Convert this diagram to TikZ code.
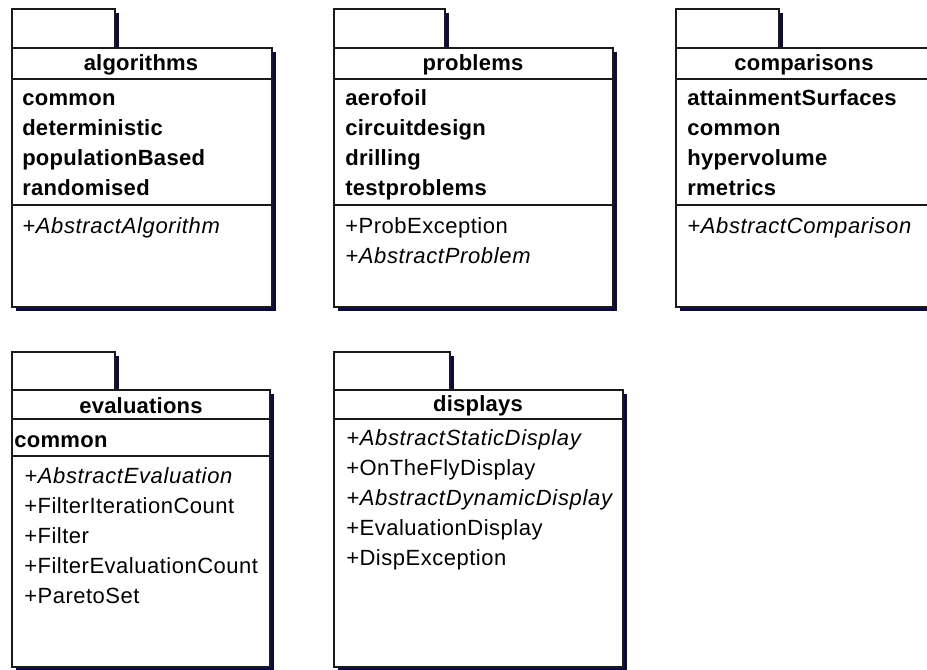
\documentclass[tikz,border=0pt]{standalone}
\usepackage{fontspec}
\setmainfont{Liberation Sans}
\definecolor{shad}{HTML}{0B0B40}
\definecolor{edge}{HTML}{1A1A1A}
\tikzset{
  x=0.75pt, y=-0.75pt,
  box/.style={draw=edge, line width=1.1pt, fill=white},
  sline/.style={draw=edge, line width=1.1pt},
  shadowfill/.style={fill=shad},
  ttl/.style={anchor=base, inner sep=0pt, font=\fontsize{16.5}{20}\selectfont\bfseries\addfontfeatures{LetterSpace=1.0}},
  sub/.style={anchor=base west, inner sep=0pt, font=\fontsize{16.5}{20}\selectfont\bfseries\addfontfeatures{LetterSpace=1.4}},
  op/.style={anchor=base west, inner sep=0pt, font=\fontsize{16.5}{20}\selectfont\addfontfeatures{LetterSpace=2.3}},
  opi/.style={anchor=base west, inner sep=0pt, font=\fontsize{16.5}{20}\selectfont\itshape\addfontfeatures{LetterSpace=3.0}},
}
% #1 left, #2 right, #3 tab right, #4 tab top, #5 main top, #6 bottom
\newcommand{\pkgbox}[6]{%
  \fill[shadowfill] (#1+4,#4+4) rectangle (#3+4,#5+4);
  \fill[shadowfill] (#1+4,#5+4) rectangle (#2+4,#6+4);
  \draw[box] (#1,#4) rectangle (#3,#5);
  \draw[box] (#1,#5) rectangle (#2,#6);
}
\begin{document}
\begin{tikzpicture}
\useasboundingbox (0,0) rectangle (927,669);
\clip (0,0) rectangle (927,669);
\fill[white] (0,0) rectangle (927,669);

% ---- algorithms
\pkgbox{12}{272}{115}{9}{48}{307}
\draw[sline] (12,79) -- (272,79);
\draw[sline] (12,205) -- (272,205);
\node[ttl] (algT) at (141,70) {algorithms};
\node[sub] (alg1) at (22,105) {common};
\node[sub] (alg2) at (22,135) {deterministic};
\node[sub] (alg3) at (22,165) {populationBased};
\node[sub] (alg4) at (22,195) {randomised};
\node[opi] (alg5) at (22,233) {+AbstractAlgorithm};

% ---- problems
\pkgbox{334}{613}{445}{9}{48}{307}
\draw[sline] (334,79) -- (613,79);
\draw[sline] (334,205) -- (613,205);
\node[ttl] (proT) at (473,70) {problems};
\node[sub] (pro1) at (345,105) {aerofoil};
\node[sub] (pro2) at (345,135) {circuitdesign};
\node[sub] (pro3) at (345,165) {drilling};
\node[sub] (pro4) at (345,195) {testproblems};
\node[op] (pro5) at (345,233) {+ProbException};
\node[opi] (pro6) at (345,263) {+AbstractProblem};

% ---- comparisons
\pkgbox{676}{932}{779}{9}{48}{307}
\draw[sline] (676,79) -- (932,79);
\draw[sline] (676,205) -- (932,205);
\node[ttl] (comT) at (804,70) {comparisons};
\node[sub] (com1) at (687,105) {attainmentSurfaces};
\node[sub] (com2) at (687,135) {common};
\node[sub] (com3) at (687,165) {hypervolume};
\node[sub] (com4) at (687,195) {rmetrics};
\node[opi] (com5) at (687,233) {+AbstractComparison};

% ---- evaluations
\pkgbox{12}{270}{115}{352}{390}{667}
\draw[sline] (12,419) -- (270,419);
\draw[sline] (12,456) -- (270,456);
\node[ttl] (evaT) at (141,413) {evaluations};
\node[sub] (eva1) at (14,447) {common};
\node[opi] (eva2) at (24,483) {+AbstractEvaluation};
\node[op] (eva3) at (24,513) {+FilterIterationCount};
\node[op] (eva4) at (24,543) {+Filter};
\node[op] (eva5) at (24,573) {+FilterEvaluationCount};
\node[op] (eva6) at (24,603) {+ParetoSet};

% ---- displays
\pkgbox{334}{623}{450}{352}{390}{667}
\draw[sline] (334,419) -- (623,419);
\node[ttl] (disT) at (478,411) {displays};
\node[opi] (dis1) at (346,445) {+AbstractStaticDisplay};
\node[op] (dis2) at (346,475) {+OnTheFlyDisplay};
\node[opi] (dis3) at (346,505) {+AbstractDynamicDisplay};
\node[op] (dis4) at (346,535) {+EvaluationDisplay};
\node[op] (dis5) at (346,565) {+DispException};
\end{tikzpicture}
\end{document}
